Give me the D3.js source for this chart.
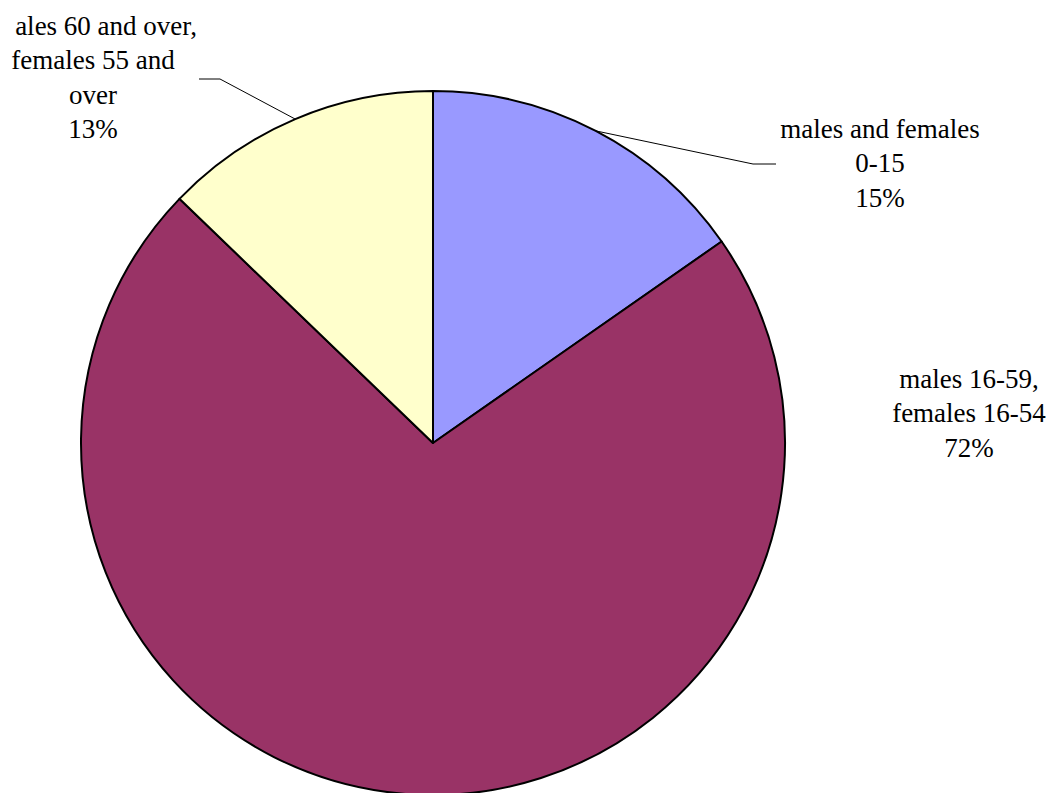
<!DOCTYPE html>
<html>
<head>
<meta charset="utf-8">
<script src="https://cdn.jsdelivr.net/npm/d3@7"></script>
<style>
  html, body { margin: 0; padding: 0; background: #fff; }
  svg { display: block; }
</style>
</head>
<body>
<svg id="chart" width="1053" height="793"></svg>
<script>
// ---- data ----
const categories = [
  "males and females 0-15",
  "males 16-59, females 16-54",
  "males 60 and over, females 55 and over"
];
const values = [15.3, 71.9, 12.8];
const percentLabels = ["15%", "72%", "13%"];
// label lines as they appear in the picture (the first line of the third label is clipped by the chart edge)
const labelLines = [
  ["males and females", "0-15", percentLabels[0]],
  ["males 16-59,", "females 16-54", percentLabels[1]],
  ["ales 60 and over,", "females 55 and", "over", percentLabels[2]]
];
const colors = ["#9999FF", "#993366", "#FFFFCC"];

// ---- pick an installed serif font ----
function pickFont(cands) {
  const c = document.createElement("canvas").getContext("2d");
  const probe = "males and females 0-15 mwiIl";
  const base = {};
  ["monospace", "sans-serif"].forEach(b => { c.font = `27px ${b}`; base[b] = c.measureText(probe).width; });
  for (const f of cands) {
    let ok = true;
    for (const b of ["monospace", "sans-serif"]) {
      c.font = `27px "${f}", ${b}`;
      if (Math.abs(c.measureText(probe).width - base[b]) < 0.01) ok = false;
    }
    if (ok) return `"${f}"`;
  }
  return "serif";
}
const serifFont = pickFont(["Liberation Serif", "Times New Roman", "Tinos", "DejaVu Serif", "Noto Serif", "FreeSerif", "Nimbus Roman", "Times"]);

// ---- layout ----
const W = 1053, H = 793;
const cx = 433, cy = 443, R = 352;
const fontSize = 27, lineH = 34.3;
const labelPos = [
  { x: 880, y: 138, leader: { x: 776, y: 164, knee: 753 } },
  { x: 969, y: 388, leader: null },
  { x: 93,  y: 35,  leader: { x: 199, y: 79, knee: 220 } }
];

const svg = d3.select("#chart");

const pie = d3.pie().sort(null).value(d => d).startAngle(0).endAngle(2 * Math.PI);
const arcs = pie(values);
const arc = d3.arc().innerRadius(0).outerRadius(R);

const g = svg.append("g").attr("transform", `translate(${cx},${cy})`);
g.selectAll("path.slice").data(arcs).join("path")
  .attr("class", "slice")
  .attr("d", arc)
  .attr("fill", (d, i) => colors[i])
  .attr("stroke", "#000")
  .attr("stroke-width", 2)
  .attr("stroke-linejoin", "round");

// leader lines
const edge = d3.arc().innerRadius(R).outerRadius(R);
arcs.forEach((a, i) => {
  const lp = labelPos[i];
  if (!lp.leader) return;
  const [ex, ey] = edge.centroid(a);
  svg.append("polyline")
    .attr("points", `${cx + ex},${cy + ey} ${lp.leader.knee},${lp.leader.y} ${lp.leader.x},${lp.leader.y}`)
    .attr("fill", "none")
    .attr("stroke", "#000")
    .attr("stroke-width", 1);
});

// labels
labelLines.forEach((lines, i) => {
  const lp = labelPos[i];
  const t = svg.append("text")
    .style("font-family", serifFont)
    .style("font-size", fontSize + "px")
    .attr("fill", "#000");
  lines.forEach((ln, k) => {
    const clipped = (i === 2 && k === 0);
    t.append("tspan")
      .attr("x", clipped ? 197 : lp.x)
      .attr("text-anchor", clipped ? "end" : "middle")
      .attr("y", lp.y + k * lineH)
      .text(ln);
  });
});
</script>
</body>
</html>
